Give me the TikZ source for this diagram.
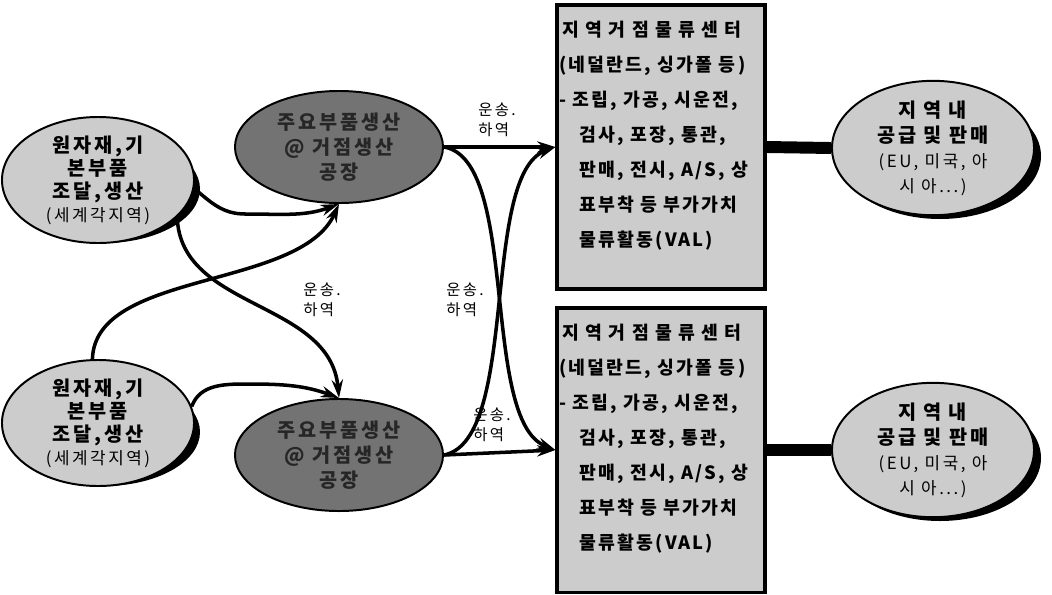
\documentclass[tikz,border=0pt]{standalone}
\usepackage{fontspec}
\setmainfont{Noto Sans CJK KR}
\newfontfamily\krbox{Noto Sans CJK KR}[LetterSpace=12]
\newfontfamily\krsp{Noto Sans CJK KR}[LetterSpace=15]
\usetikzlibrary{shapes.geometric,arrows.meta}
\definecolor{lightfill}{gray}{0.8}
\definecolor{darkfill}{gray}{0.45}
\definecolor{darktext}{gray}{0.15}

\begin{document}
\begin{tikzpicture}[x=0.025cm, y=-0.025cm, line width=1.4pt,
    flow/.style={-{Stealth[length=13pt,width=8pt]}, line width=2.5pt},
    src/.style={ellipse, draw, fill=lightfill, minimum width=4.8cm, minimum height=2.7cm, inner sep=0pt,
        align=center, font=\krsp\bfseries\fontsize{14}{16.4}\selectfont},
    fab/.style={ellipse, draw, fill=darkfill, text=darktext, minimum width=5.2cm, minimum height=2.8cm, inner sep=0pt,
        align=center, font=\krsp\bfseries\fontsize{14}{17.8}\selectfont},
    ctrbox/.style={rectangle, draw, line width=2.2pt, fill=lightfill, minimum width=5.2cm, minimum height=7.1cm, inner sep=0pt},
    ctrtxt/.style={anchor=north west, align=left, inner sep=0pt, font=\krbox\bfseries\fontsize{13}{24.9}\selectfont},
    dst/.style={ellipse, draw, fill=lightfill, minimum width=5.05cm, minimum height=3.15cm, inner sep=0pt,
        align=center, font=\krsp\bfseries\fontsize{14}{17.8}\selectfont},
    lbl/.style={align=left, inner sep=0pt, font=\krsp\fontsize{11}{14.2}\selectfont},
    bar/.style={line width=8.5pt}]
    \useasboundingbox (0,0) rectangle (1052,594);

    % shadows
    \fill (104,189) ellipse [x radius=96, y radius=54];
    \fill (104,432) ellipse [x radius=96, y radius=54];
    \fill (940,156) ellipse [x radius=101, y radius=63];
    \fill (940,458) ellipse [x radius=101, y radius=63];

    % sources
    \node[src] (srcA) at (98,180) {원자재,기\\본부품\\조달,생산\\{\mdseries\fontsize{12}{14}\selectfont(세계각지역)}};
    \node[src] (srcB) at (98,423) {원자재,기\\본부품\\조달,생산\\{\mdseries\fontsize{12}{14}\selectfont(세계각지역)}};

    % plants
    \node[fab] (dkA) at (339,147) {주요부품생산\\@ 거점생산\\공장};
    \node[fab] (dkB) at (339,455) {주요부품생산\\@ 거점생산\\공장};

    % centres
    \node[ctrbox] (ctrA) at (661,147) {};
    \node[ctrbox] (ctrB) at (661,450) {};
    \node[ctrtxt] (ctrAtxt) at ([shift={(3,17)}]ctrA.north west) {{\addfontfeature{LetterSpace=35}\,지역거점물류센터}\\(네덜란드, 싱가폴 등)\\- 조립, 가공, 시운전,\\\hspace*{1.1em}검사, 포장, 통관,\\\hspace*{1.1em}판매, 전시, A/S, 상\\\hspace*{1.1em}표부착 등 부가가치\\\hspace*{1.1em}물류활동(VAL)};
    \node[ctrtxt] (ctrBtxt) at ([shift={(3,17)}]ctrB.north west) {{\addfontfeature{LetterSpace=35}\,지역거점물류센터}\\(네덜란드, 싱가폴 등)\\- 조립, 가공, 시운전,\\\hspace*{1.1em}검사, 포장, 통관,\\\hspace*{1.1em}판매, 전시, A/S, 상\\\hspace*{1.1em}표부착 등 부가가치\\\hspace*{1.1em}물류활동(VAL)};

    % regional sales
    \node[dst] (dstA) at (933,148) {{\addfontfeature{LetterSpace=35}지역내}\\공급 및 판매\\{\mdseries\fontsize{12}{14}\selectfont(EU, 미국, 아}\\{\mdseries\fontsize{12}{14}\selectfont 시 아...)}};
    \node[dst] (dstB) at (933,450) {{\addfontfeature{LetterSpace=35}지역내}\\공급 및 판매\\{\mdseries\fontsize{12}{14}\selectfont(EU, 미국, 아}\\{\mdseries\fontsize{12}{14}\selectfont 시 아...)}};

    % labels
    \node[lbl] (lblA) at (497,120) {운송.\\하역};
    \node[lbl] (lblB) at (322,300) {운송.\\하역};
    \node[lbl] (lblC) at (465,300) {운송.\\하역};
    \node[lbl] (lblD) at (492,425) {운송.\\하역};

    % flows
    \draw[flow] (srcA.-5) to[out=-40,in=180] (245,214) to[out=0,in=200] (dkA.south);
    \draw[flow] (srcA.-25) .. controls (180,310) and (330,300) .. (dkB.north);
    \draw[flow] (srcB.95) .. controls (95,270) and (300,290) .. (dkA.south);
    \draw[flow] (srcB.10) to[out=70,in=180] (250,384) to[out=0,in=160] (dkB.north);
    \draw[flow] (dkA.east) -- (ctrA.west);
    \draw[flow] (dkA.east) .. controls (520,160) and (480,420) .. (ctrB.west);
    \draw[flow] (dkB.east) -- (ctrB.west);
    \draw[flow] (dkB.east) .. controls (520,440) and (480,175) .. (ctrA.west);
    \draw[bar] (ctrA.east) -- (dstA.west);
    \draw[bar] (ctrB.east) -- (dstB.west);
\end{tikzpicture}
\end{document}
